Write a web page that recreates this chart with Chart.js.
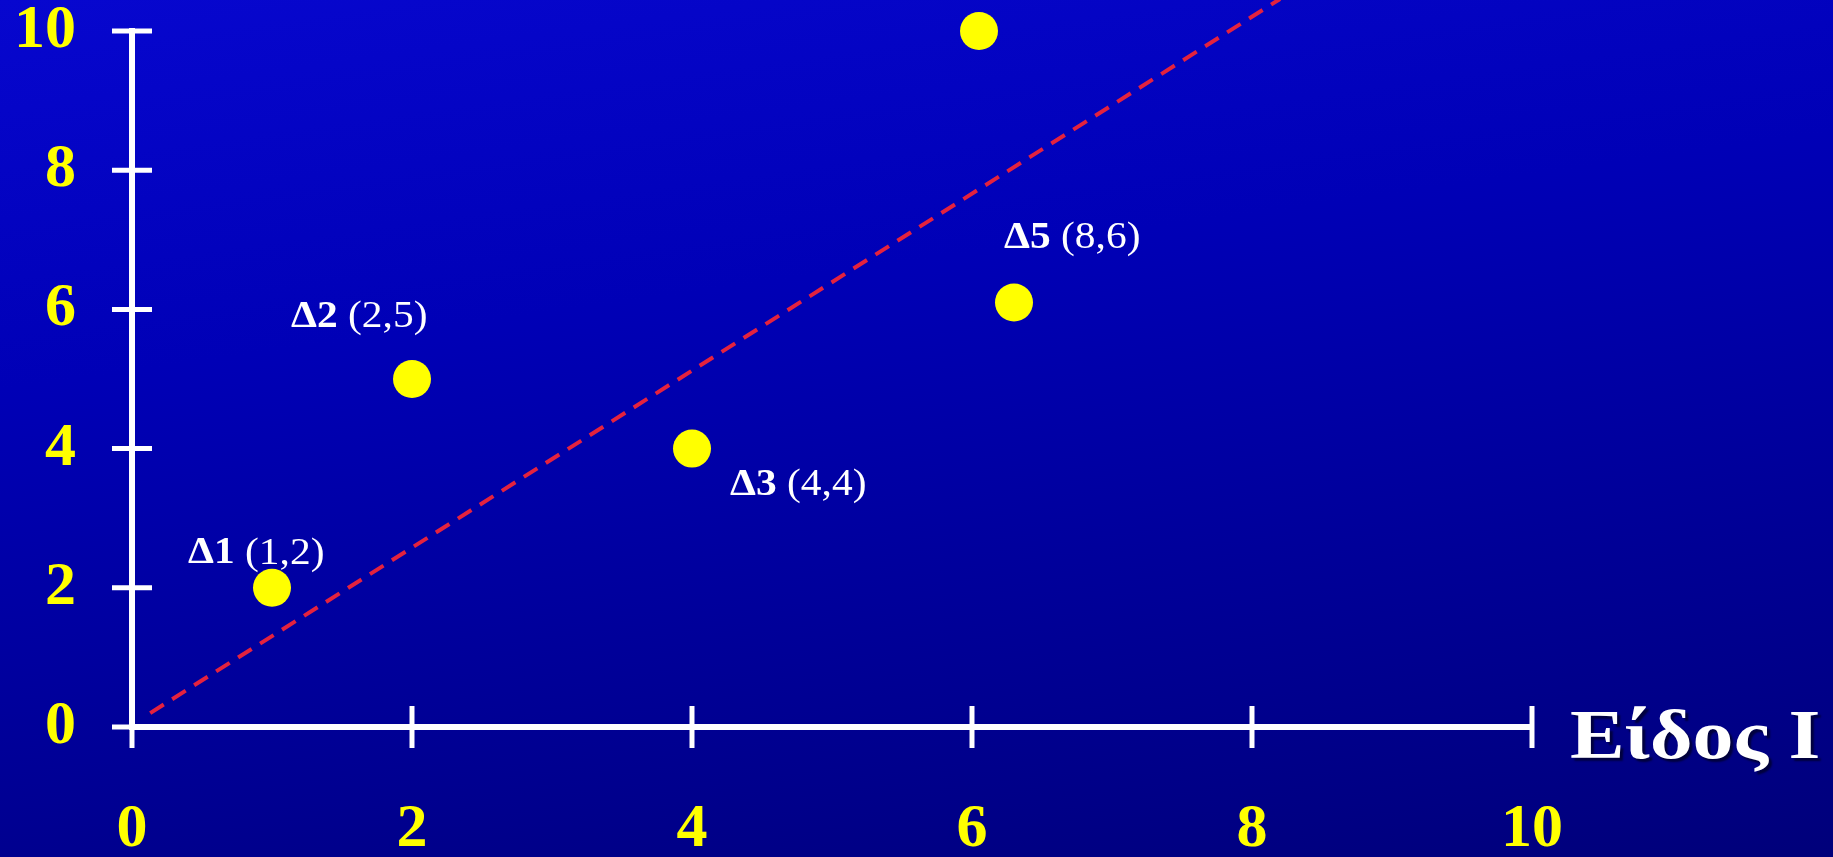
<!DOCTYPE html>
<html><head><meta charset="utf-8">
<script src="https://cdn.jsdelivr.net/npm/chart.js@4"></script>
<style>
html,body{margin:0;padding:0;background:#00007c;}
#wrap{position:relative;width:1833px;height:857px;background:linear-gradient(172deg,#0707cf 0%,#0000b6 35%,#00009a 65%,#00007a 100%);}
</style></head><body><div id="wrap"><canvas id="c"></canvas></div>
<script>
// ---- data ----
const pointNames = ['Δ1', 'Δ2', 'Δ3', 'Δ4', 'Δ5'];
const pointCoordTexts = ['(1,2)', '(2,5)', '(4,4)', '', '(8,6)'];
const xValues = [1, 2, 4, 6.05, 6.3];
const yValues = [2, 5, 4, 10, 6.1];
const lineX = [0.13, 8.2];
const lineY = [0.2, 10.46];
const xTicks = [0, 2, 4, 6, 8, 10];
const yTicks = [0, 2, 4, 6, 8, 10];
const axisTitle = 'Είδος Ι';

// ---- styles / placement ----
const labelPlacement = [
  {dx: -84, dy: -34},
  {dx: -121, dy: -62},
  {dx: 38, dy: 37},
  null,
  {dx: -10, dy: -64}
];
const SERIF = "'Liberation Serif','Times New Roman',serif";
const YELLOW = '#ffff00';

const pointData = xValues.map((x, i) => ({x: x, y: yValues[i]}));
const lineData = lineX.map((x, i) => ({x: x, y: lineY[i]}));

const tickCross = {
  id: 'tickCross',
  afterDraw(chart) {
    const ctx = chart.ctx, xs = chart.scales.x, ys = chart.scales.y;
    const ax = xs.getPixelForValue(0) , ay = ys.getPixelForValue(0);
    ctx.save();
    ctx.strokeStyle = '#ffffff';
    ctx.lineWidth = 5;
    ctx.lineCap = 'butt';
    xTicks.forEach(v => {
      const px = xs.getPixelForValue(v);
      ctx.beginPath(); ctx.moveTo(px, ay - 21); ctx.lineTo(px, ay + 21); ctx.stroke();
    });
    yTicks.forEach(v => {
      const py = ys.getPixelForValue(v);
      ctx.beginPath(); ctx.moveTo(ax - 20, py); ctx.lineTo(ax + 20, py); ctx.stroke();
    });
    ctx.restore();
  }
};

const pointLabels = {
  id: 'pointLabels',
  afterDatasetsDraw(chart) {
    const ctx = chart.ctx;
    const meta = chart.getDatasetMeta(1);
    ctx.save();
    ctx.fillStyle = '#ffffff';
    ctx.textBaseline = 'middle';
    ctx.textAlign = 'left';
    meta.data.forEach((el, i) => {
      const p = labelPlacement[i];
      if (!p) return;
      const sx = 1.12;
      ctx.save();
      ctx.translate(el.x + p.dx, el.y + p.dy);
      ctx.scale(sx, 1);
      ctx.font = 'bold 37px ' + SERIF;
      ctx.fillText(pointNames[i], 0, 0);
      const w = ctx.measureText(pointNames[i] + ' ').width;
      ctx.font = '37px ' + SERIF;
      ctx.fillText(pointCoordTexts[i], w, 0);
      ctx.restore();
    });
    // axis title
    const xs = chart.scales.x, ys = chart.scales.y;
    const tx = xs.getPixelForValue(10) + 38, ty = ys.getPixelForValue(0) + 31;
    ctx.save();
    ctx.translate(tx, ty);
    ctx.scale(1.17, 1);
    ctx.font = 'bold 70px ' + SERIF;
    ctx.textBaseline = 'alphabetic';
    ctx.shadowColor = 'rgba(0,0,0,0.55)';
    ctx.shadowOffsetX = 3; ctx.shadowOffsetY = 3; ctx.shadowBlur = 2;
    ctx.fillStyle = '#ffffff';
    ctx.fillText(axisTitle, 0, 0);
    ctx.restore();
    ctx.restore();
  }
};

Chart.defaults.font.family = SERIF;

new Chart(document.getElementById('c'), {
  type: 'scatter',
  data: {
    datasets: [
      {
        type: 'line',
        data: lineData,
        borderColor: 'rgb(228,34,62)',
        borderWidth: 4,
        borderDash: [16, 10],
        pointRadius: 0,
        fill: false,
        clip: false,
        order: 2
      },
      {
        data: pointData,
        backgroundColor: YELLOW,
        borderWidth: 0,
        pointRadius: 19,
        pointHoverRadius: 19,
        clip: false,
        order: 1
      }
    ]
  },
  options: {
    responsive: true,
    maintainAspectRatio: false,
    animation: false,
    layout: {padding: {top: 31, right: 301, bottom: 0, left: 0}},
    plugins: {legend: {display: false}, tooltip: {enabled: false}},
    scales: {
      x: {
        type: 'linear', min: 0, max: 10,
        afterBuildTicks: s => { s.ticks = xTicks.map(v => ({value: v})); },
        afterFit: s => { s.height = 130; s.paddingLeft = 0; s.paddingRight = 0; },
        grid: {display: false, drawTicks: true, tickLength: 20},
        border: {display: true, color: '#ffffff', width: 6},
        ticks: {color: YELLOW, padding: 46, font: {family: SERIF, size: 62, weight: 'bold', lineHeight: 1.2}, maxRotation: 0}
      },
      y: {
        type: 'linear', min: 0, max: 10,
        afterBuildTicks: s => { s.ticks = yTicks.map(v => ({value: v})); },
        afterFit: s => { s.width = 132; s.paddingTop = 0; s.paddingBottom = 0; },
        grid: {display: false, drawTicks: true, tickLength: 20},
        border: {display: true, color: '#ffffff', width: 6},
        ticks: {color: YELLOW, padding: 36, font: {family: SERIF, size: 62, weight: 'bold', lineHeight: 1.2}}
      }
    }
  },
  plugins: [tickCross, pointLabels]
});
</script></body></html>
